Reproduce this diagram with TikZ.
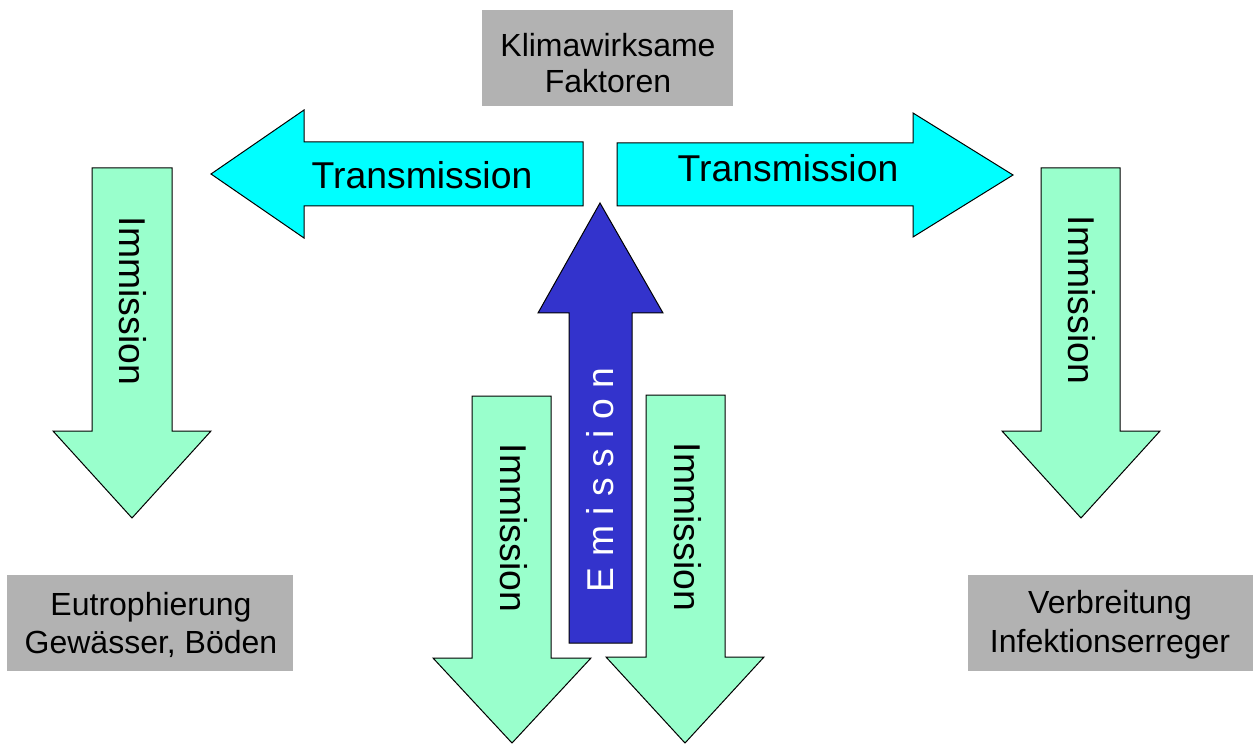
\documentclass[tikz,border=0pt]{standalone}
\usepackage{fontspec}
\setmainfont{Liberation Sans}
\usepackage{tikz}

\definecolor{transcyan}{HTML}{00FFFF}
\definecolor{immgreen}{HTML}{99FFCC}
\definecolor{emblue}{HTML}{3333CC}
\definecolor{boxgray}{HTML}{B2B2B2}

\begin{document}
\begin{tikzpicture}[x=0.75pt,y=-0.75pt,line join=miter]
    \tikzstyle{transarrow}=[draw=black,fill=transcyan,line width=0.75pt]
    \tikzstyle{immarrow}=[draw=black,fill=immgreen,line width=0.75pt]
    \tikzstyle{emarrow}=[draw=black,fill=emblue,line width=0.75pt]
    \tikzstyle{arrowtext}=[font=\fontsize{28}{34}\selectfont,inner sep=0pt]
    \tikzstyle{boxtext}=[font=\fontsize{24}{27}\selectfont,align=center,inner sep=0pt]

    \useasboundingbox (0,0) rectangle (1253,745);

    % grey boxes
    \fill[boxgray] (482,10) rectangle (733,106);
    \fill[boxgray] (7,575) rectangle (293,671);
    \fill[boxgray] (968,575) rectangle (1253,671);

    % transmission
    \draw[transarrow] (211,174) -- (304,110) -- (304,142) -- (583,142) -- (583,206)
        -- (304,206) -- (304,238) -- cycle;
    \draw[transarrow] (617,143) -- (913,143) -- (913,113) -- (1013,175) -- (913,237)
        -- (913,206) -- (617,206) -- cycle;

    % emission
    \draw[emarrow] (600,203) -- (663,313) -- (632,313) -- (632,643) -- (569,643)
        -- (569,313) -- (538,313) -- cycle;

    % immission
    \draw[immarrow] (92,168) -- (172,168) -- (172,431) -- (211,431) -- (132,518)
        -- (53,431) -- (92,431) -- cycle;
    \draw[immarrow] (1041,168) -- (1120,168) -- (1120,431) -- (1160,431) -- (1081,518)
        -- (1002,431) -- (1041,431) -- cycle;
    \draw[immarrow] (472,396) -- (551,396) -- (551,658) -- (591,658) -- (512,743)
        -- (433,658) -- (472,658) -- cycle;
    \draw[immarrow] (646,395) -- (725,395) -- (725,657) -- (764,657) -- (685,743)
        -- (606,657) -- (646,657) -- cycle;

    \node[boxtext] (klima) at (608,63) {Klimawirksame\\Faktoren};
    \node[boxtext,font=\fontsize{24}{29}\selectfont] (eutro) at (151,625) {Eutrophierung\\Gewässer, Böden};
    \node[boxtext,font=\fontsize{24}{29}\selectfont] (verbr) at (1110,625) {Verbreitung\\Infektionserreger};

    \node[arrowtext] (transL) at (422,175) {Transmission};
    \node[arrowtext] (transR) at (788,168) {Transmission};
    \node[arrowtext,text=white,rotate=90] (emis) at (600,480) {E m i s s i o n};
    \node[arrowtext,rotate=-90] (immL) at (133,301) {Immission};
    \node[arrowtext,rotate=-90] (immR) at (1082,300) {Immission};
    \node[arrowtext,rotate=-90] (immML) at (514,528) {Immission};
    \node[arrowtext,rotate=-90] (immMR) at (688,527) {Immission};

\end{tikzpicture}
\end{document}
